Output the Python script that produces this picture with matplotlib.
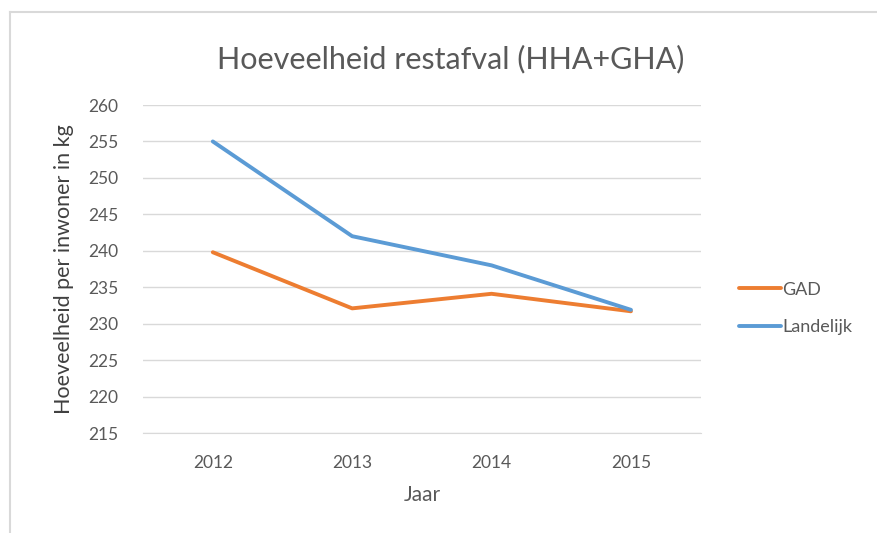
import matplotlib.pyplot as plt
from matplotlib.lines import Line2D

# Data
years = ['2012', '2013', '2014', '2015']
gad = [239.8, 232.1, 234.1, 231.7]
landelijk = [255.0, 242.0, 238.0, 231.9]
y_ticks = list(range(215, 261, 5))

plt.rcParams['font.family'] = ['Lato', 'DejaVu Sans']

fig = plt.figure(figsize=(8.78, 5.33), dpi=100)
ax = fig.add_axes([0.163, 0.1876, 0.635, 0.6154])

x = range(len(years))
ax.plot(x, gad, color='#ED7D31', linewidth=2.8, label='GAD', solid_capstyle='round')
ax.plot(x, landelijk, color='#5B9BD5', linewidth=2.8, label='Landelijk', solid_capstyle='round')

ax.set_xlim(-0.5, len(years) - 0.5)
ax.set_ylim(215, 260)
ax.set_xticks(list(x))
ax.set_xticklabels(years)
ax.set_yticks(y_ticks)

ax.grid(axis='y', color='#d9d9d9', linewidth=1)
ax.set_axisbelow(True)
for s in ['top', 'right', 'left']:
    ax.spines[s].set_visible(False)
ax.spines['bottom'].set_color('#d9d9d9')
ax.tick_params(length=0, labelsize=12.5, colors='#595959')
ax.tick_params(axis='x', pad=16)
ax.tick_params(axis='y', pad=18)

ax.set_xlabel('Jaar', fontsize=15, color='#595959', labelpad=10)
ax.set_ylabel('Hoeveelheid per inwoner in kg', fontsize=15.5, color='#404040', labelpad=10)
fig.text(0.513, 0.889, 'Hoeveelheid restafval (HHA+GHA)', ha='center', va='center',
         fontsize=22, color='#595959')

ax.legend(loc='center left', bbox_to_anchor=(1.04, 0.38), frameon=False,
          fontsize=13, labelcolor='#595959', handlelength=2.3, handletextpad=0.1,
          labelspacing=1.2)

# chart border (left and top edges visible)
fig.add_artist(Line2D([0.011, 0.011], [0.0, 0.977], transform=fig.transFigure,
                      color='#d9d9d9', linewidth=1.5))
fig.add_artist(Line2D([0.011, 1.0], [0.977, 0.977], transform=fig.transFigure,
                      color='#d9d9d9', linewidth=1.5))

fig.savefig('out.png', dpi=100)
